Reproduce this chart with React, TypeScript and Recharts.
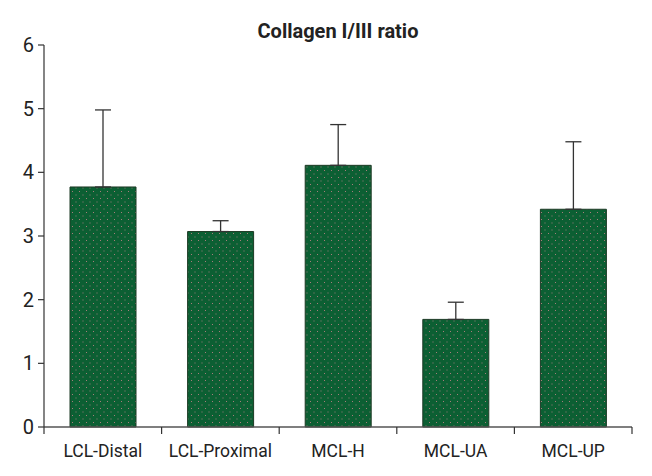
import * as React from 'react';
import {Bar, BarChart, ErrorBar, XAxis, YAxis} from 'recharts';

const categories = ['LCL-Distal', 'LCL-Proximal', 'MCL-H', 'MCL-UA', 'MCL-UP'];
const ratios = [3.77, 3.07, 4.11, 1.69, 3.42];
const upperErrors = [1.21, 0.17, 0.64, 0.27, 1.06];
const yTicks = [0, 1, 2, 3, 4, 5, 6];

type Row = {name: string; ratio: number; err: [number, number]};
const data: Row[] = categories.map((name, i) => ({
    name,
    ratio: ratios[i],
    err: [0, upperErrors[i]],
}));

const FONT = 'Roboto, "Noto Sans", sans-serif';

const CategoryTick = (props: any) => {
    const {x, y, payload, index} = props;
    const half = payload && payload.offset ? payload.offset : 58.8;
    return (
        <g>
            <line x1={x - half} x2={x - half} y1={y} y2={y + 7} stroke="#333" strokeWidth={1.2} />
            {index === categories.length - 1 && (
                <line x1={x + half} x2={x + half} y1={y} y2={y + 7} stroke="#333" strokeWidth={1.2} />
            )}
            <text x={x} y={y + 30} textAnchor="middle" fill="#222" fontSize={17.5} fontFamily={FONT}>
                {payload.value}
            </text>
        </g>
    );
};

export default function App() {
    return (
        <div>
            <BarChart
                width={644}
                height={468}
                data={data}
                margin={{top: 37, right: 20, left: 0, bottom: 14}}>
                <defs>
                    <pattern id="dots" width="7" height="7" patternUnits="userSpaceOnUse">
                        <rect width="7" height="7" fill="#0c5f33" />
                        <rect x="1" y="1" width="1" height="1" fill="#a87c7c" />
                        <rect x="4.5" y="4.5" width="1" height="1" fill="#9a7a7a" />
                    </pattern>
                </defs>
                <text
                    x={330}
                    y={30}
                    textAnchor="middle"
                    fontSize={20}
                    fontWeight="bold"
                    fill="#222"
                    fontFamily={FONT}>
                    Collagen I/III ratio
                </text>
                <XAxis
                    dataKey="name"
                    height={35}
                    tickLine={false}
                    tickSize={0}
                    tickMargin={0}
                    interval={0}
                    axisLine={{stroke: '#555', strokeWidth: 1.5}}
                    tick={<CategoryTick />}
                />
                <YAxis
                    width={36}
                    domain={[0, 6]}
                    ticks={yTicks}
                    interval={0}
                    tickSize={6}
                    tickMargin={4}
                    axisLine={{stroke: '#333', strokeWidth: 1.2}}
                    tickLine={{stroke: '#333', strokeWidth: 1.2}}
                    tick={{fill: '#222', fontSize: 20, fontFamily: FONT}}
                />
                <Bar
                    dataKey="ratio"
                    barSize={66}
                    fill="url(#dots)"
                    stroke="#1d3a25"
                    strokeWidth={1}
                    isAnimationActive={false}>
                    <ErrorBar dataKey="err" width={8} stroke="#333" strokeWidth={1.3} direction="y" />
                </Bar>
            </BarChart>
        </div>
    );
}
